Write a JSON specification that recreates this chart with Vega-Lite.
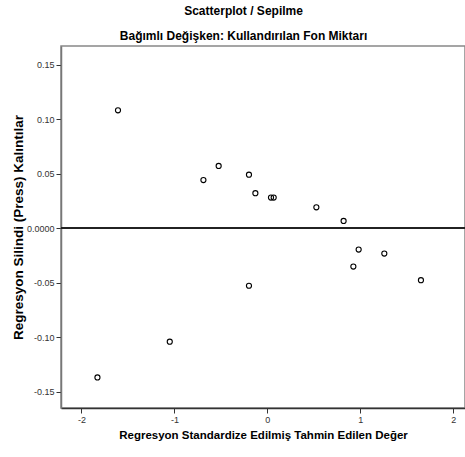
{
  "$schema": "https://vega.github.io/schema/vega-lite/v6.json",
  "width": 404,
  "height": 362,
  "autosize": "none",
  "padding": {"left": 61, "top": 46, "right": 0, "bottom": 49},
  "background": "white",
  "config": {
    "font": "Liberation Sans",
    "view": {"stroke": "#888888", "strokeWidth": 1.5}
  },
  "title": {
    "text": "Scatterplot / Sepilme",
    "subtitle": "Bağımlı Değişken: Kullandırılan Fon Miktarı",
    "anchor": "middle",
    "frame": "bounds",
    "dx": 5,
    "font": "Liberation Sans",
    "fontSize": 12,
    "fontWeight": "bold",
    "color": "#000000",
    "subtitleFont": "Liberation Sans",
    "subtitleFontSize": 12,
    "subtitleFontWeight": "bold",
    "subtitleColor": "#000000",
    "subtitlePadding": 13,
    "offset": 3
  },
  "data": {
    "values": [
      {"x": -1.607, "y": 0.108},
      {"x": -0.524, "y": 0.057},
      {"x": -0.688, "y": 0.044},
      {"x": -0.198, "y": 0.049},
      {"x": -0.129, "y": 0.032},
      {"x": 0.039, "y": 0.028},
      {"x": 0.068, "y": 0.028},
      {"x": 0.527, "y": 0.019},
      {"x": 0.820, "y": 0.0066},
      {"x": 0.982, "y": -0.0197},
      {"x": 1.258, "y": -0.0234},
      {"x": 0.925, "y": -0.0353},
      {"x": 1.652, "y": -0.0478},
      {"x": -0.198, "y": -0.0529},
      {"x": -1.05, "y": -0.1042},
      {"x": -1.828, "y": -0.137}
    ]
  },
  "layer": [
    {
      "mark": {"type": "rule", "color": "#222222", "strokeWidth": 1.2},
      "encoding": {"y": {"datum": 0, "type": "quantitative"}}
    },
    {
      "mark": {"type": "point", "shape": "circle", "filled": false, "color": "#000000", "size": 26, "strokeWidth": 1.1, "opacity": 1},
      "encoding": {
        "x": {
          "field": "x",
          "type": "quantitative",
          "scale": {"domain": [-2.22, 2.126], "nice": false, "zero": false},
          "axis": {
            "title": "Regresyon Standardize Edilmiş Tahmin Edilen Değer",
            "values": [-2, -1, 0, 1, 2],
            "labelExpr": "replace(format(datum.value, 'd'), '−', '-')",
            "grid": false,
            "domainColor": "#333333",
            "domainWidth": 1.5,
            "tickColor": "#333333",
            "tickSize": 5,
            "labelFont": "Liberation Sans",
            "labelFontSize": 9,
            "labelColor": "#333333",
            "labelPadding": 2,
            "titleFont": "Liberation Sans",
            "titleFontSize": 11.5,
            "titleFontWeight": "bold",
            "titleColor": "#000000",
            "titlePadding": 5
          }
        },
        "y": {
          "field": "y",
          "type": "quantitative",
          "scale": {"domain": [-0.165, 0.167], "nice": false, "zero": false},
          "axis": {
            "title": "Regresyon Silindi (Press) Kalıntılar",
            "values": [-0.15, -0.1, -0.05, 0, 0.05, 0.1, 0.15],
            "labelExpr": "datum.value == 0 ? '0.0000' : replace(format(datum.value, '.2f'), '−', '-')",
            "grid": false,
            "domainColor": "#777777",
            "domainWidth": 1.5,
            "tickColor": "#333333",
            "tickSize": 5,
            "labelFont": "Liberation Sans",
            "labelFontSize": 9,
            "labelColor": "#333333",
            "labelPadding": 2,
            "titleFont": "Liberation Sans",
            "titleFontSize": 13.5,
            "titleFontWeight": "bold",
            "titleColor": "#000000",
            "titlePadding": 1
          }
        }
      }
    }
  ]
}
